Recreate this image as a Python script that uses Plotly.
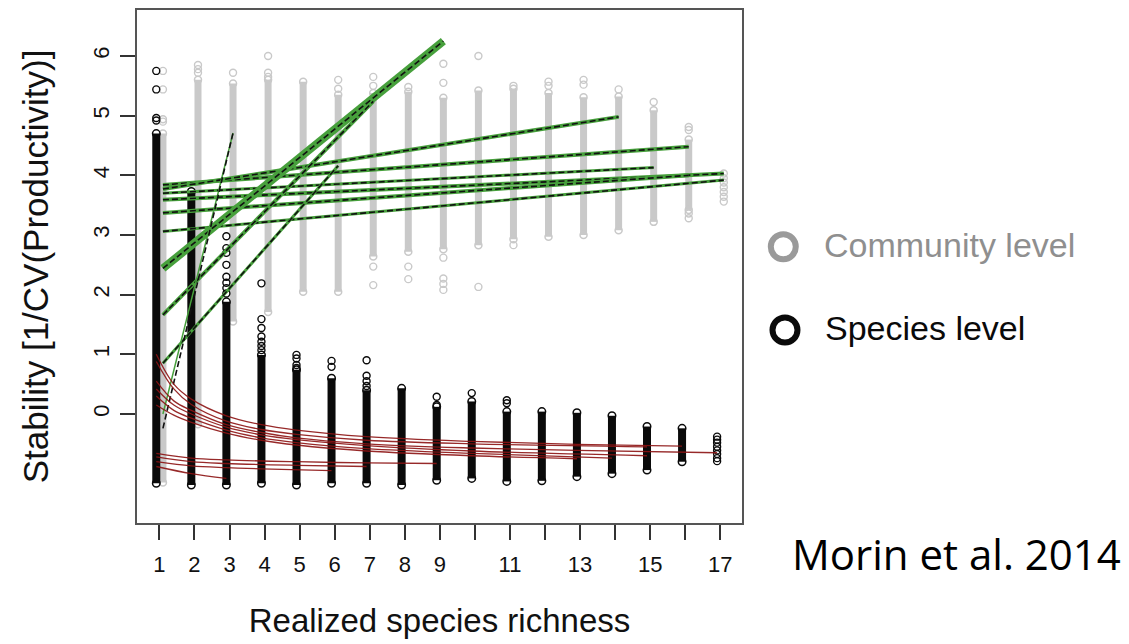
import plotly.graph_objects as go

# ---------------- data ----------------
richness = list(range(1, 18))
tick_text = ["1", "2", "3", "4", "5", "6", "7", "8", "9", "", "11", "", "13", "", "15", "", "17"]

# community level (grey): dense column range per richness level
comm_min = [-1.15, -0.17, 1.55, 1.71, 2.05, 2.05, 2.64, 2.72, 2.76, 2.83, 2.93, 2.97, 3.00, 3.08, 3.22, 3.42, None]
comm_max = [4.70, 5.60, 5.54, 5.60, 5.57, 5.35, 5.38, 5.40, 5.30, 5.42, 5.45, 5.38, 5.31, 5.32, 5.09, 4.60, None]
# community level isolated points
comm_out_x = [1, 1, 1, 1, 2, 2, 2, 3, 4, 4, 4, 6, 6, 7, 7, 7, 7, 8, 8, 8,
              9, 9, 9, 9, 9, 9, 10, 10, 11, 11, 12, 12, 13, 13, 14, 15, 16, 16, 16, 16,
              17, 17, 17, 17, 17, 17, 17]
comm_out_y = [5.75, 5.44, 4.94, 4.90, 5.85, 5.78, 5.72, 5.72, 6.00, 5.72, 5.65, 5.60, 5.45, 5.65, 5.50, 2.47, 2.16, 5.48, 2.47, 2.26,
              5.87, 5.55, 2.62, 2.27, 2.18, 2.08, 6.00, 2.13, 5.50, 2.83, 5.57, 5.50, 5.60, 5.52, 5.44, 5.23, 4.81, 4.76, 3.36, 3.28,
              4.03, 3.95, 3.88, 3.80, 3.72, 3.64, 3.56]

# species level (black): dense column range per richness level
sp_min = [-1.16, -1.19, -1.19, -1.16, -1.19, -1.16, -1.16, -1.19, -1.11, -1.08, -1.13, -1.12, -1.05, -1.00, -0.94, -0.80, None]
sp_max = [4.70, 3.73, 1.88, 0.99, 0.74, 0.60, 0.40, 0.43, 0.12, 0.21, 0.04, 0.04, 0.02, -0.03, -0.21, -0.24, None]
sp_out_x = [1, 1, 1, 1, 3, 3, 3, 3, 3, 3, 3, 3, 4, 4, 4, 4, 4, 4, 4,
            5, 5, 5, 5, 6, 6, 7, 7, 7, 7, 9, 9, 10, 11, 11,
            17, 17, 17, 17, 17, 17, 17, 17]
sp_out_y = [5.75, 5.44, 4.96, 4.92, 2.98, 2.78, 2.70, 2.50, 2.30, 2.20, 2.11, 2.02, 2.19, 1.59, 1.44, 1.30, 1.21, 1.14, 1.07,
            0.99, 0.93, 0.82, 0.77, 0.89, 0.79, 0.90, 0.64, 0.55, 0.47, 0.29, 0.15, 0.35, 0.23, 0.18,
            -0.38, -0.43, -0.48, -0.55, -0.61, -0.67, -0.74, -0.79]

# community-level fitted lines (green band + black dashed fit): start/end richness and stability
green_x0 = [1, 1, 1, 1, 1, 1, 1, 1, 1]
green_x1 = [16, 14, 15, 17, 16, 17, 9, 7, 6]
green_y0 = [3.84, 3.77, 3.70, 3.59, 3.37, 3.06, 2.44, 1.66, 0.85]
green_y1 = [4.48, 4.98, 4.13, 4.03, 4.00, 3.92, 6.25, 5.24, 4.16]
green_w = [4, 4, 3, 4, 4, 3, 8, 4, 3]
# steep short fit (thin green line + dashed black fit)
steep_x = [1, 3]
steep_green_y = [0.00, 4.71]
steep_dash_y = [-0.24, 4.71]

# species-level fitted curves (red)
red_x = [
    [1, 1.5, 2, 3, 4, 5, 7, 10, 13, 16],
    [1, 1.5, 2, 3, 4, 5, 7, 10, 15],
    [1, 1.5, 2, 3, 4, 5, 7, 10, 13, 17],
    [1, 1.5, 2, 3, 4, 5, 7, 10, 15],
    [1, 1.5, 2, 3, 4, 5, 7, 10, 14],
    [1, 1.5, 2, 3, 4, 5, 7, 10, 13],
    [1, 2, 3, 5, 7, 9],
    [1, 2, 3, 5, 7],
    [1, 2, 3, 4, 6],
    [1, 2, 3],
]
red_y = [
    [1.00, 0.50, 0.25, -0.03, -0.18, -0.27, -0.38, -0.46, -0.51, -0.54],
    [0.88, 0.42, 0.16, -0.12, -0.26, -0.34, -0.44, -0.50, -0.55],
    [0.55, 0.22, 0.06, -0.18, -0.31, -0.40, -0.50, -0.57, -0.61, -0.65],
    [0.42, 0.15, 0.00, -0.22, -0.35, -0.43, -0.53, -0.62, -0.70],
    [0.30, 0.06, -0.07, -0.27, -0.40, -0.48, -0.58, -0.66, -0.74],
    [0.15, -0.02, -0.14, -0.32, -0.44, -0.52, -0.62, -0.70, -0.75],
    [-0.66, -0.74, -0.77, -0.80, -0.82, -0.83],
    [-0.72, -0.80, -0.83, -0.86, -0.88],
    [-0.80, -0.87, -0.90, -0.92, -0.95],
    [-0.88, -1.00, -1.08],
]

# ---------------- styling ----------------
COMM_DX = 0.10   # grey series is drawn slightly right of each tick
SP_DX = -0.09    # black series slightly left
GREY = "#c9c9c9"
BLACK = "#0a0a0a"
GREEN = "#47a03c"
RED = "rgba(140,18,18,0.9)"
FONT = "Liberation Sans, Arial, sans-serif"

fig = go.Figure()


def column_trace(xs, lo, hi, dx, color, width, msize):
    X, Y = [], []
    for x, a, b in zip(xs, lo, hi):
        if a is None:
            continue
        X += [x + dx, x + dx, None]
        Y += [a, b, None]
    return go.Scatter(x=X, y=Y, mode="lines+markers", showlegend=False, hoverinfo="skip",
                      line=dict(color=color, width=width),
                      marker=dict(symbol="circle-open", size=msize, color=color, line=dict(width=1.5, color=color)))


# grey columns + points
fig.add_trace(column_trace(richness, comm_min, comm_max, COMM_DX, GREY, 7, 7))
fig.add_trace(go.Scatter(x=[x + COMM_DX for x in comm_out_x], y=comm_out_y, mode="markers",
                         showlegend=False, hoverinfo="skip",
                         marker=dict(symbol="circle-open", size=7, color=GREY, line=dict(width=1.4, color=GREY))))
# black columns + points
fig.add_trace(column_trace(richness, sp_min, sp_max, SP_DX, BLACK, 8, 7.5))
fig.add_trace(go.Scatter(x=[x + SP_DX for x in sp_out_x], y=sp_out_y, mode="markers",
                         showlegend=False, hoverinfo="skip",
                         marker=dict(symbol="circle-open", size=7, color=BLACK, line=dict(width=1.4, color=BLACK))))

# green fitted lines
for x0, x1, y0, y1, w in zip(green_x0, green_x1, green_y0, green_y1, green_w):
    fig.add_trace(go.Scatter(x=[x0 + COMM_DX, x1 + COMM_DX], y=[y0, y1], mode="lines", showlegend=False,
                             hoverinfo="skip", line=dict(color=GREEN, width=w)))
    fig.add_trace(go.Scatter(x=[x0 + COMM_DX, x1 + COMM_DX], y=[y0, y1], mode="lines", showlegend=False,
                             hoverinfo="skip", line=dict(color="#111", width=1.6, dash="6px,3px")))
fig.add_trace(go.Scatter(x=[v + COMM_DX for v in steep_x], y=steep_green_y, mode="lines", showlegend=False,
                         hoverinfo="skip", line=dict(color=GREEN, width=1.5)))
fig.add_trace(go.Scatter(x=[v + COMM_DX for v in steep_x], y=steep_dash_y, mode="lines", showlegend=False,
                         hoverinfo="skip", line=dict(color="#111", width=1.6, dash="6px,3px")))

# red fitted curves
for xs, ys in zip(red_x, red_y):
    fig.add_trace(go.Scatter(x=[v + SP_DX for v in xs], y=ys, mode="lines", showlegend=False, hoverinfo="skip",
                             line=dict(color=RED, width=1.3, shape="spline", smoothing=1.0)))

# legend (drawn as layout shapes + text), positions in plot-area (paper) units
shapes = [
    dict(type="circle", xref="paper", yref="paper", x0=1.0476, x1=1.0889, y0=0.5142, y1=0.5630,
         line=dict(color="#9a9a9a", width=6)),
    dict(type="circle", xref="paper", yref="paper", x0=1.0504, x1=1.0917, y0=0.3518, y1=0.4006,
         line=dict(color=BLACK, width=6)),
]
annotations = [
    dict(text="Community level", xref="paper", yref="paper", x=1.1317, y=0.5419, xanchor="left", yanchor="middle",
         showarrow=False, font=dict(family=FONT, size=34, color="#8f8f8f")),
    dict(text="Species level", xref="paper", yref="paper", x=1.1339, y=0.3801, xanchor="left", yanchor="middle",
         showarrow=False, font=dict(family=FONT, size=34, color="#0a0a0a")),
    dict(text="Morin et al. 2014", xref="paper", yref="paper", x=1.0790, y=-0.0585, xanchor="left", yanchor="middle",
         showarrow=False, font=dict(family="Open Sans, sans-serif", size=42, color="#000")),
]

# the page body adds an 8px offset, so the figure is 1121x636 with margins shifted accordingly
fig.update_layout(
    width=1121, height=636,
    margin=dict(l=129, r=387, t=2, b=121, autoexpand=False),
    paper_bgcolor="white", plot_bgcolor="white",
    shapes=shapes, annotations=annotations,
    showlegend=False,
    font=dict(family=FONT, color="#111"),
)
fig.update_xaxes(range=[0.36, 17.62], tickmode="array", tickvals=richness, ticktext=tick_text,
                 ticks="outside", ticklen=15, tickwidth=1.5, tickcolor="#333",
                 showline=True, mirror=True, linecolor="#555", linewidth=2,
                 showgrid=False, zeroline=False, ticklabelstandoff=6, automargin=False,
                 tickfont=dict(family=FONT, size=22, color="#111"),
                 title=dict(text="Realized species richness", font=dict(family=FONT, size=33, color="#111"), standoff=32))
fig.update_yaxes(range=[-1.827, 6.771], tickmode="array", tickvals=[0, 1, 2, 3, 4, 5, 6],
                 ticktext=["0", "1", "2", "3", "4", "5", "6"], tickangle=-90,
                 ticks="outside", ticklen=15, tickwidth=1.5, tickcolor="#333",
                 showline=True, mirror=True, linecolor="#555", linewidth=2,
                 showgrid=False, zeroline=False, ticklabelstandoff=2, automargin=False,
                 tickfont=dict(family=FONT, size=22, color="#111"),
                 title=dict(text="Stability [1/CV(Productivity)]", font=dict(family=FONT, size=35, color="#111"), standoff=30))

fig.write_html("out.html")
